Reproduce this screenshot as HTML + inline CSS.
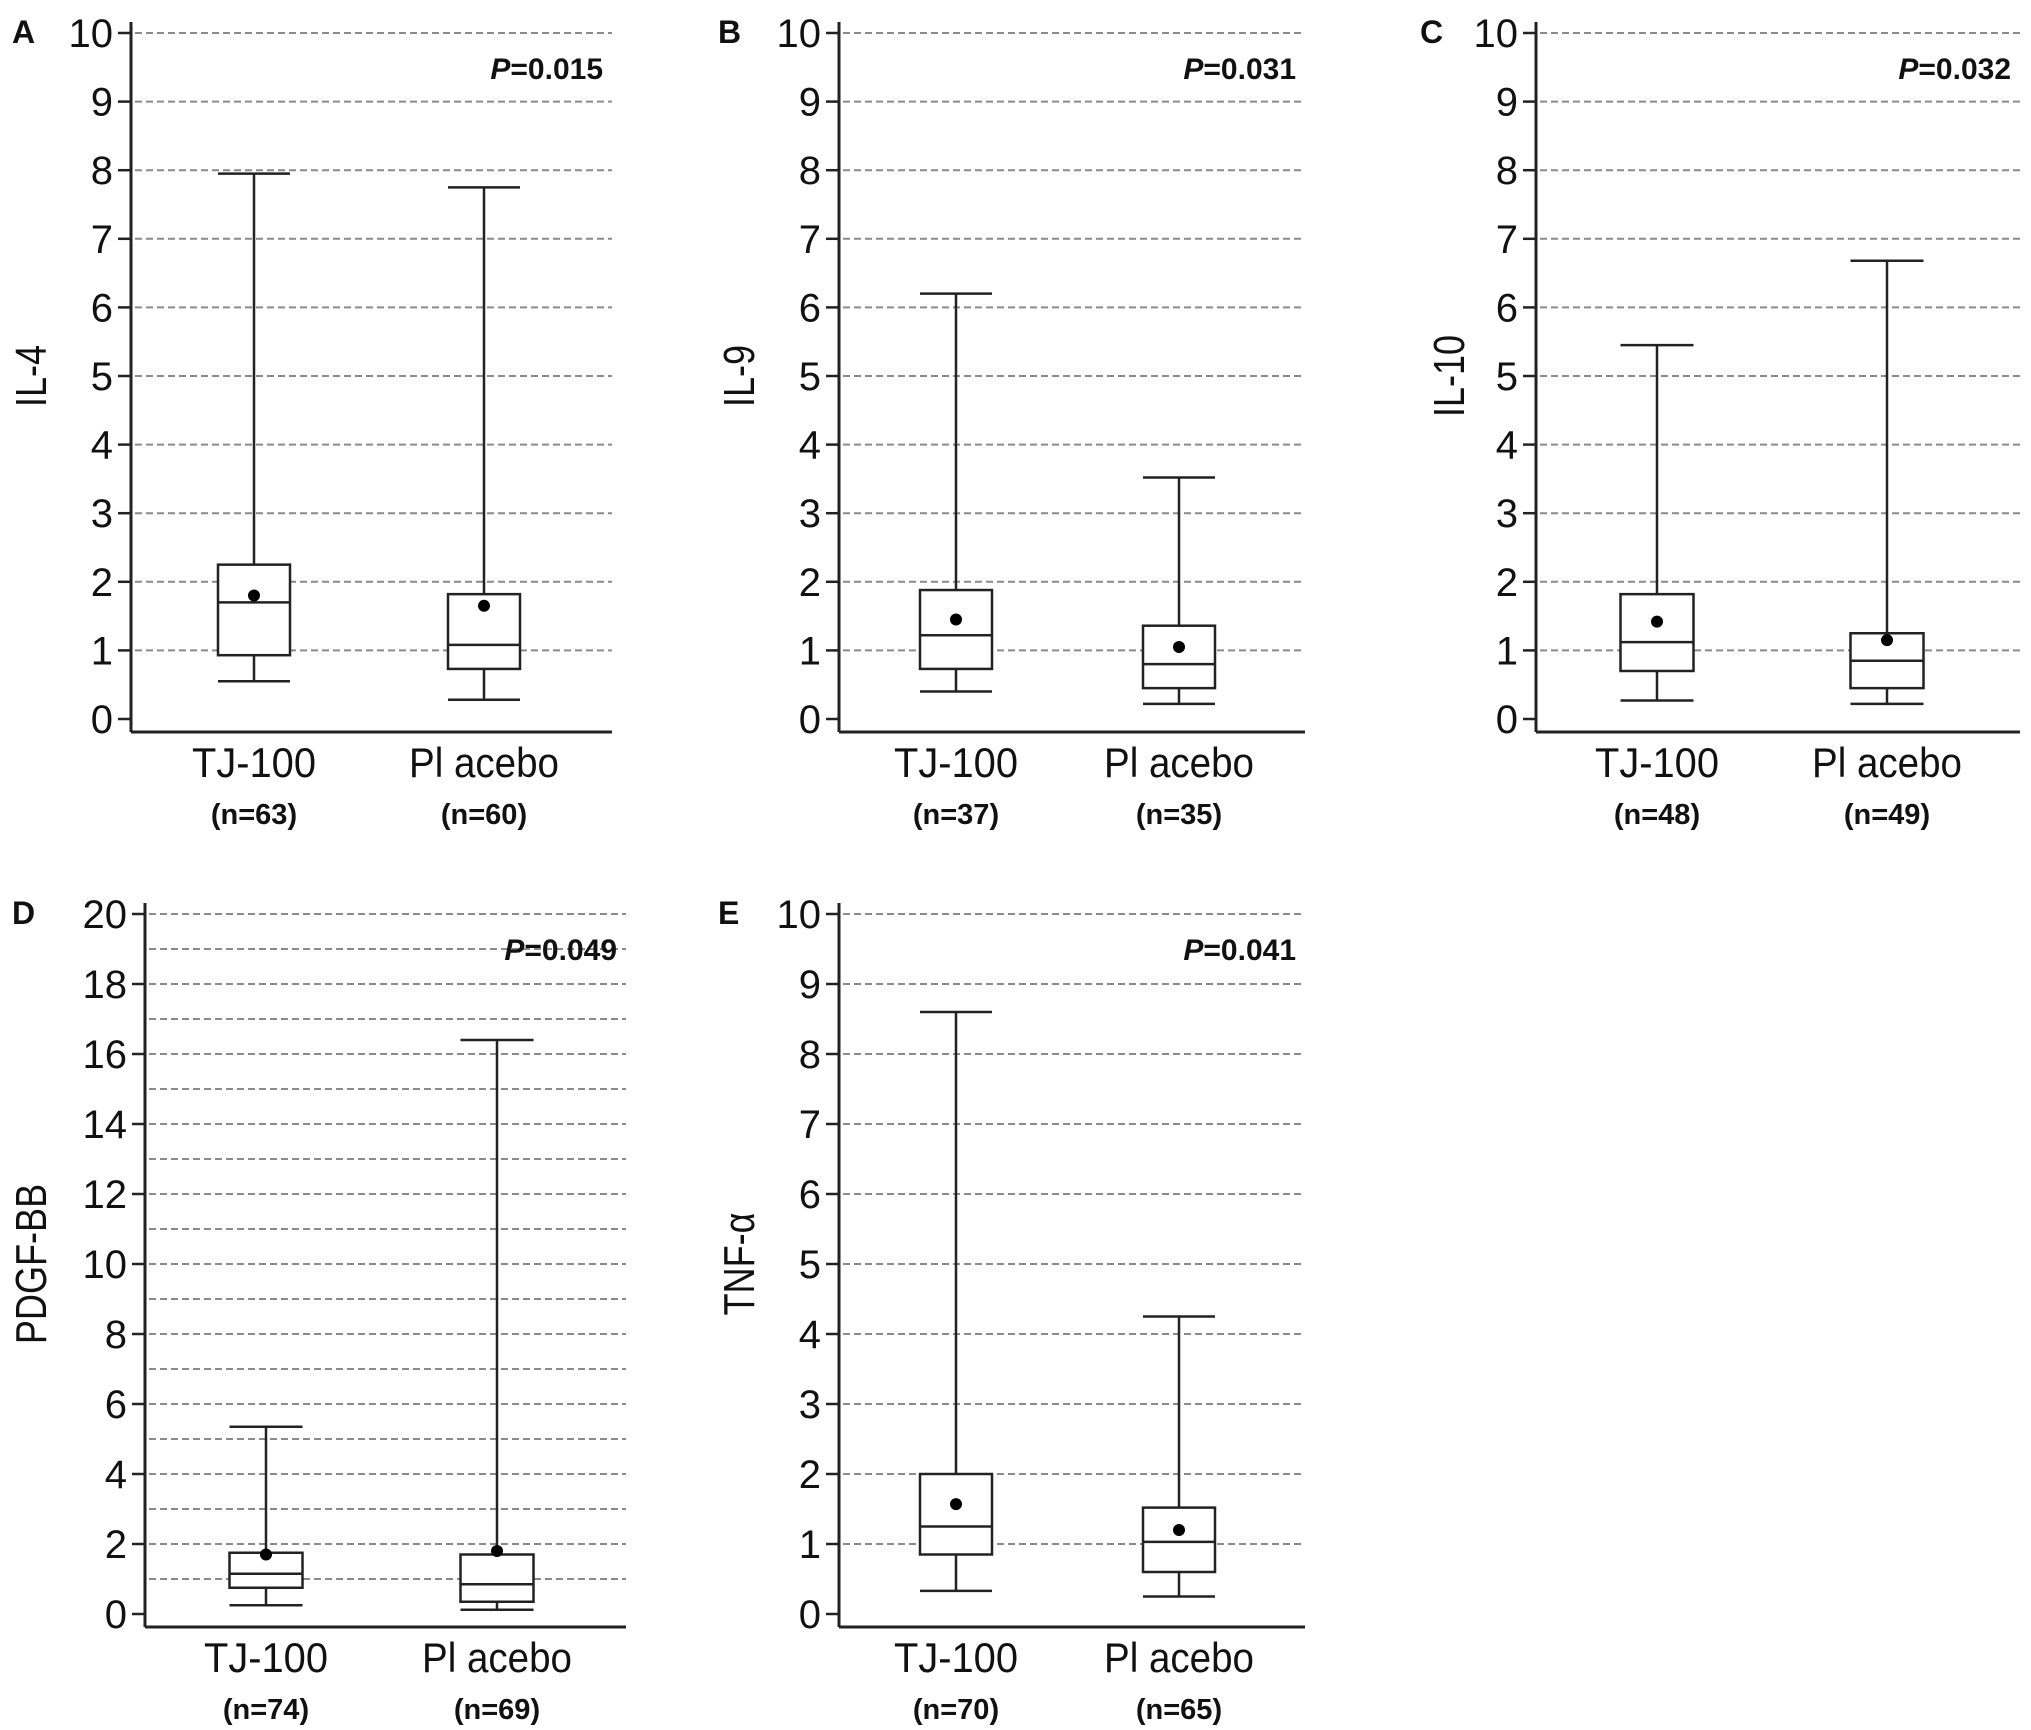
<!DOCTYPE html>
<html><head><meta charset="utf-8"><style>
html,body{margin:0;padding:0;background:#fff;}
svg{display:block;font-family:"Liberation Sans",sans-serif;}
</style></head><body>
<svg id="fig" width="2031" height="1730" viewBox="0 0 2031 1730" xmlns="http://www.w3.org/2000/svg"></svg>
<script>
// ---- data (box stats: [whiskerLow, Q1, median, Q3, whiskerHigh], mean) ----
const groups = ["TJ-100", "Placebo"];
const panelLetters = ["A", "B", "C", "D", "E"];
const yTitles = ["IL-4", "IL-9", "IL-10", "PDGF-BB", "TNF-\u03B1"];
const pValues = ["0.015", "0.031", "0.032", "0.049", "0.041"];
const nTJ = [63, 37, 48, 74, 70];
const nPlacebo = [60, 35, 49, 69, 65];
const yMaxes = [10, 10, 10, 20, 10];
const tickLabelsTen = [0,1,2,3,4,5,6,7,8,9,10];
const tickLabelsTwenty = [0,2,4,6,8,10,12,14,16,18,20];
const statsTJ = [
  [0.55, 0.93, 1.70, 2.25, 7.95],
  [0.40, 0.73, 1.22, 1.88, 6.20],
  [0.27, 0.70, 1.12, 1.82, 5.45],
  [0.25, 0.75, 1.15, 1.75, 5.35],
  [0.33, 0.85, 1.25, 2.00, 8.60]
];
const statsPlacebo = [
  [0.28, 0.73, 1.08, 1.82, 7.75],
  [0.22, 0.45, 0.80, 1.36, 3.52],
  [0.22, 0.45, 0.85, 1.25, 6.68],
  [0.12, 0.35, 0.85, 1.70, 16.40],
  [0.25, 0.60, 1.03, 1.52, 4.25]
];
const meansTJ = [1.80, 1.45, 1.42, 1.70, 1.57];
const meansPlacebo = [1.65, 1.05, 1.15, 1.80, 1.20];

// ---- layout ----
const layout = [
  {ax:131, right:612, top:33, bottom:719, base:732, c:[254,484], bw:72},
  {ax:839, right:1305, top:33, bottom:719, base:732, c:[956,1179], bw:72},
  {ax:1536, right:2020, top:33, bottom:719, base:732, c:[1657,1887], bw:73},
  {ax:145, right:626, top:914, bottom:1614, base:1627, c:[266,497], bw:73},
  {ax:839, right:1305, top:914, bottom:1614, base:1627, c:[956,1179], bw:72}
];
const NS = "http://www.w3.org/2000/svg";
const svg = document.getElementById("fig");
function mk(tag, attrs, parent, text){
  const e = document.createElementNS(NS, tag);
  for (const k in attrs) e.setAttribute(k, attrs[k]);
  if (text !== undefined) e.textContent = text;
  parent.appendChild(e);
  return e;
}

for (let p = 0; p < 5; p++){
  const L = layout[p];
  const ymax = yMaxes[p];
  const yS = v => L.bottom - (v / ymax) * (L.bottom - L.top);
  const g = mk("g", {}, svg);
  
  

  for (let v = 1; v <= ymax; v++){
    const ln = mk("line", {x1:L.ax+4, x2:L.right, y1:yS(v), y2:yS(v), stroke:"#8a8a8a", "stroke-width":2, "stroke-dasharray":"7 4"}, g);
    
    
  }
  const yax = mk("line", {x1:L.ax, x2:L.ax, y1:L.top-11, y2:L.base, stroke:"#222", "stroke-width":3}, g);
  
  
  const xax = mk("line", {x1:L.ax, x2:L.right, y1:L.base, y2:L.base, stroke:"#222", "stroke-width":3}, g);
  
  
  const ticks = ymax === 20 ? tickLabelsTwenty : tickLabelsTen;
  ticks.forEach(t => {
    mk("line", {x1:L.ax-13, x2:L.ax, y1:yS(t), y2:yS(t), stroke:"#222", "stroke-width":2.5}, g);
    const tl = mk("text", {x:L.ax-18, y:yS(t)+14, "text-anchor":"end", "font-size":40, fill:"#111"}, g, String(t));
    
    
  });
  const lt = mk("text", {x:12, y:L.top+10, "font-size":32, "font-weight":"bold", fill:"#111"}, g, panelLetters[p]);
  lt.setAttribute("x", p===0||p===3 ? 12 : (p===2 ? 1420 : 718));
  
  
  const ytx = p===0||p===3 ? 46 : (p===2 ? 1464 : 754);
  const ycy = (L.top + L.bottom) / 2;
  const yt = mk("text", {x:ytx, y:ycy, "text-anchor":"middle", "font-size":44, fill:"#111", transform:`rotate(-90 ${ytx} ${ycy}) translate(${ytx} ${ycy}) scale(0.82 1) translate(${-ytx} ${-ycy})`}, g, yTitles[p]);
  
  
  const pv = mk("text", {x:L.right-9, y:L.top+46, "text-anchor":"end", "font-size":30, "font-weight":"bold", fill:"#111"}, g);
  mk("tspan", {"font-style":"italic"}, pv, "P");
  mk("tspan", {}, pv, "=" + pValues[p]);
  
  

  const allStats = [statsTJ[p], statsPlacebo[p]];
  const allMeans = [meansTJ[p], meansPlacebo[p]];
  const ns = [nTJ[p], nPlacebo[p]];
  for (let k = 0; k < 2; k++){
    const s = allStats[k], cx = L.c[k], hw = L.bw/2;
    const bg = mk("g", {stroke:"#222", "stroke-width":2.5, fill:"none"}, g);
    
    
    mk("line", {x1:cx, x2:cx, y1:yS(s[0]), y2:yS(s[1])}, bg);
    mk("line", {x1:cx, x2:cx, y1:yS(s[3]), y2:yS(s[4])}, bg);
    mk("line", {x1:cx-hw, x2:cx+hw, y1:yS(s[0]), y2:yS(s[0])}, bg);
    mk("line", {x1:cx-hw, x2:cx+hw, y1:yS(s[4]), y2:yS(s[4])}, bg);
    mk("rect", {x:cx-hw, y:yS(s[3]), width:L.bw, height:yS(s[1])-yS(s[3]), fill:"#fff"}, bg);
    mk("line", {x1:cx-hw, x2:cx+hw, y1:yS(s[2]), y2:yS(s[2])}, bg);
    const m = mk("circle", {cx:cx, cy:yS(allMeans[k]), r:6, fill:"#000", stroke:"none"}, bg);
    
    
    const gl = mk("text", {x:cx, y:L.base+45, "text-anchor":"middle", "font-size":42, fill:"#111", "textLength": k===0?124:150, lengthAdjust:"spacingAndGlyphs"}, g, k===0 ? "TJ-100" : "Pl acebo");
    
    
    const nl = mk("text", {x:cx, y:L.base+92, "text-anchor":"middle", "font-size":29, "font-weight":"bold", fill:"#111"}, g, "(n=" + ns[k] + ")");
    
    
  }
}
</script>
</body></html>
